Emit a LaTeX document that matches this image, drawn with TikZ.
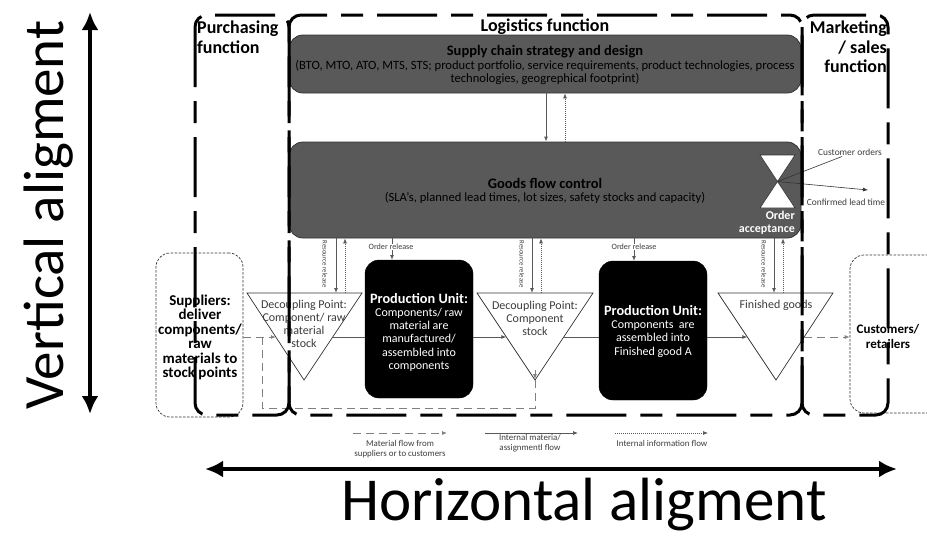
\documentclass[tikz,border=0pt]{standalone}
\usepackage{fontspec}
\setmainfont{Carlito}
\usetikzlibrary{arrows.meta}
\newcommand\setfs[2]{\fontsize{#1}{#2}\selectfont}
\definecolor{boxgray}{HTML}{595959}
\definecolor{edgegray}{HTML}{333333}
\definecolor{linegray}{HTML}{595959}
\definecolor{txtgray}{HTML}{3C3C3C}
\begin{document}
\begin{tikzpicture}[x=1pt,y=-1pt,
  fnborder/.style={draw=black,line width=3pt,rounded corners=12pt,
    dash pattern=on 60pt off 14pt on 22pt off 14pt},
  fnlabel/.style={font=\setfs{18}{20}\bfseries,inner sep=0pt},
  ctrlbox/.style={draw=edgegray,fill=boxgray,line width=0.8pt,rounded corners=14pt,
    minimum width=512pt,inner sep=0pt},
  ctrltitle/.style={font=\setfs{14.5}{16}\bfseries,inner sep=0pt},
  ctrlbody/.style={font=\setfs{12.6}{13.5},align=center,inner sep=0pt},
  unitbox/.style={draw=black,fill=black,rounded corners=14pt,minimum width=108pt,
    minimum height=138pt,inner sep=0pt},
  unittitle/.style={font=\setfs{14.3}{16}\bfseries,text=white,inner sep=0pt},
  unitbody/.style={font=\setfs{12}{13.3},text=white,align=center,inner sep=0pt},
  partybox/.style={draw=black!80,dash pattern=on 2.5pt off 1.5pt,line width=0.7pt,
    rounded corners=14pt,inner sep=0pt},
  stocktri/.style={draw=edgegray,fill=white,line width=0.7pt},
  stocktxt/.style={font=\setfs{12}{13},text=txtgray,align=center,inner sep=0pt},
  smalltxt/.style={font=\setfs{9.4}{11},text=txtgray,inner sep=0pt},
  tinytxt/.style={font=\setfs{#1}{#1},text=txtgray,inner sep=0pt},
  legendtxt/.style={font=\setfs{8.9}{9.8},text=txtgray,align=center,inner sep=0pt},
  flowtip/.style={-{Latex[length=5pt,width=4pt]}},
  matflow/.style={draw=black!50,line width=0.8pt,dash pattern=on 8pt off 5pt,flowtip},
  intflow/.style={draw=linegray,line width=0.8pt,flowtip},
  plainflow/.style={draw=linegray,line width=0.8pt},
  infoflow/.style={draw=linegray,line width=0.7pt,dash pattern=on 1pt off 1pt,flowtip},
  resdown/.style={draw=linegray,line width=1pt,flowtip},
  bigarrow/.style={line width=4.5pt,{Latex[length=18pt,width=17pt]}-{Latex[length=18pt,width=17pt]}}
]
\useasboundingbox (0,0) rectangle (927,536);

% ---------- planning layers ----------
\node[ctrlbox,minimum height=58pt] (sc) at (545,64) {};
\node[ctrltitle] (sctitle) at (545,52) {Supply chain strategy and design};
\node[ctrlbody] (scbody) at (545,72.5) {(BTO, MTO, ATO, MTS, STS; product portfolio, service requirements, product technologies, process\\technologies, geogrephical footprint)};

\node[ctrlbox,minimum height=96pt] (gf) at (545,190) {};
\node[ctrltitle] (gftitle) at (545,183) {Goods flow control};
\node[ctrlbody] (gfbody) at (545,198) {(SLA’s, planned lead times, lot sizes, safety stocks and capacity)};

\draw[resdown] ([xshift=1pt]sc.south) -- ([xshift=1pt]gf.north);
\draw[infoflow] ([xshift=20pt]gf.north) -- ([xshift=20pt]sc.south);

% order acceptance hourglass
\coordinate (hgtl) at (760,155);
\coordinate (hgtr) at (795,155);
\coordinate (hgw) at (777.5,181.5);
\coordinate (hgbl) at (760,208);
\coordinate (hgbr) at (795,208);
\draw[draw=edgegray,fill=white,line width=0.6pt] (hgtl) -- (hgtr) -- (hgbl) -- (hgbr) -- cycle;
\node[font=\setfs{12}{13}\bfseries,text=white,align=right,anchor=east,inner sep=0pt] (oa) at (795,222.5) {Order\\acceptance};

\node[smalltxt] (co) at (850,152) {Customer orders};
\node[smalltxt] (clt) at (846,202) {Confirmed lead time};
\coordinate (cltend) at (868,190);
\draw[draw=edgegray,line width=0.6pt] ([xshift=-8pt,yshift=-1pt]co.south) -- (hgw);
\draw[draw=edgegray,line width=0.6pt,flowtip] (hgw) -- (cltend);

% ---------- stock points and production units ----------
\coordinate (t1a) at (247,293); \coordinate (t1b) at (362,293); \coordinate (t1s) at (304,380);
\coordinate (t2a) at (477,293); \coordinate (t2b) at (593,293); \coordinate (t2s) at (535,380);
\coordinate (t3a) at (718,293); \coordinate (t3b) at (833,293); \coordinate (t3s) at (776,380);
\draw[stocktri] (t1a) -- (t1b) -- (t1s) -- cycle;
\draw[stocktri] (t2a) -- (t2b) -- (t2s) -- cycle;
\draw[stocktri] (t3a) -- (t3b) -- (t3s) -- cycle;
\node[stocktxt] (t1txt) at (304,323.5) {Decoupling Point:\\Component/ raw\\material\\stock};
\node[stocktxt] (t2txt) at (535,318) {Decoupling Point:\\Component\\stock};
\node[stocktxt] (t3txt) at (776,305) {Finished goods};

% points where the flows meet the triangle sides
\coordinate (t1w) at (275.8,337); \coordinate (t1e) at (332.7,337);
\coordinate (t2w) at (506.3,337); \coordinate (t2e) at (563.7,337);
\coordinate (t3w) at (747.3,337); \coordinate (t3e) at (804.2,337);

\node[unitbox] (pu1) at (419,329) {};
\node[unittitle] (pu1title) at (419,299) {Production Unit:};
\node[unitbody] (pu1body) at (419,339.6) {Components/ raw\\material are\\manufactured/\\assembled into\\components};
\node[unitbox,minimum height=139pt] (pu2) at (653,330.5) {};
\node[unittitle] (pu2title) at (653,311) {Production Unit:};
\node[unitbody] (pu2body) at (653,339) {Components\ \ are\\assembled into\\Finished good A};

% resource release / order release between control and execution
\coordinate (r1a) at (336,293); \coordinate (r1b) at (345,293);
\coordinate (r2a) at (532,293); \coordinate (r2b) at (541,293);
\coordinate (r3a) at (774,293); \coordinate (r3b) at (783,293);
\draw[resdown] (r1a |- gf.south) -- (r1a);
\draw[infoflow] (r1b) -- (r1b |- gf.south);
\draw[resdown] (r2a |- gf.south) -- (r2a);
\draw[infoflow] (r2b) -- (r2b |- gf.south);
\draw[resdown] (r3a |- gf.south) -- (r3a);
\draw[infoflow] (r3b) -- (r3b |- gf.south);
\node[tinytxt=6.8,rotate=-90] (rr1) at (325,264) {Resource release};
\node[tinytxt=6.8,rotate=-90] (rr2) at (522,264) {Resource release};
\node[tinytxt=6.8,rotate=-90] (rr3) at (764,264) {Resource release};

\coordinate (or1) at (392,260);
\coordinate (or2) at (634,261);
\draw[resdown] (or1 |- gf.south) -- (or1);
\draw[resdown] (or2 |- gf.south) -- (or2);
\node[tinytxt=8.1,fill=white,inner sep=0.5pt] (orl1) at (391,247) {Order release};
\node[tinytxt=8.1,fill=white,inner sep=0.5pt] (orl2) at (634,247) {Order release};

% ---------- suppliers and customers ----------
\node[partybox,minimum width=87pt,minimum height=164pt] (sup) at (199.5,335) {};
\node[font=\setfs{15}{14.4}\bfseries,align=center,inner sep=0pt] (suptxt) at (200,337.5) {Suppliers:\\deliver\\components/\\raw\\materials to\\stock points};
\node[partybox,minimum width=92pt,minimum height=158pt] (cust) at (896,334) {};
\node[font=\setfs{13}{15}\bfseries,align=center,inner sep=0pt] (custtxt) at (888,336.5) {Customers/\\retailers};

% ---------- material flows ----------
\coordinate (br) at (262,337);
\coordinate (lowline) at (0,408);
\draw[matflow] (sup.east |- t1w) -- (t1w);
\draw[matflow,-] (br) -- (br |- lowline) -| ([yshift=1pt]t2s);
\draw[matflow] ([yshift=10pt]t2s) -- ([yshift=1pt]t2s);
\draw[plainflow] (t1e) -- (t1e -| pu1.west);
\draw[intflow] (t1e -| pu1.east) -- (t2w);
\draw[plainflow] (t2e) -- (t2e -| pu2.west);
\draw[intflow] (t2e -| pu2.east) -- (t3w);
\draw[matflow] (t3e) -- (t3e -| cust.west);

% ---------- function areas ----------
\draw[fnborder] (195,15) rectangle (289,415);
\draw[fnborder] (289,15) rectangle (802,415);
\draw[fnborder] (802,15) rectangle (888,415);
\node[fnlabel,align=left,anchor=west] (purch) at (197,37) {Purchasing\\function};
\node[fnlabel] (logi) at (545,27) {Logistics function};
\node[fnlabel,align=right,anchor=east,font=\setfs{18}{19.5}\bfseries] (mkt) at (887,47) {Marketing\\/ sales\\function};

% ---------- legend ----------
\coordinate (lg1s) at (353,433); \coordinate (lg1e) at (447,433);
\coordinate (lg2s) at (485,433); \coordinate (lg2e) at (578,433);
\coordinate (lg3s) at (615,433); \coordinate (lg3e) at (708,433);
\draw[matflow] (lg1s) -- (lg1e);
\draw[intflow] (lg2s) -- (lg2e);
\draw[infoflow] (lg3s) -- (lg3e);
\node[legendtxt] (lgt1) at (400,449.5) {Material flow from\\suppliers or to customers};
\node[legendtxt] (lgt2) at (530,443) {Internal materia/\\assignmentl flow};
\node[legendtxt] (lgt3) at (662,443) {Internal information flow};

% ---------- alignment axes ----------
\coordinate (vtop) at (90,12); \coordinate (vbot) at (90,414);
\coordinate (hleft) at (205,469); \coordinate (hright) at (897,469);
\draw[bigarrow] (vtop) -- (vbot);
\draw[bigarrow] (hleft) -- (hright);
\node[rotate=90,font=\setfs{57}{60},inner sep=0pt] (vlab) at (49,215) {Vertical aligment};
\node[font=\setfs{61}{64},inner sep=0pt] (hlab) at (584,505) {Horizontal aligment};
\end{tikzpicture}
\end{document}
